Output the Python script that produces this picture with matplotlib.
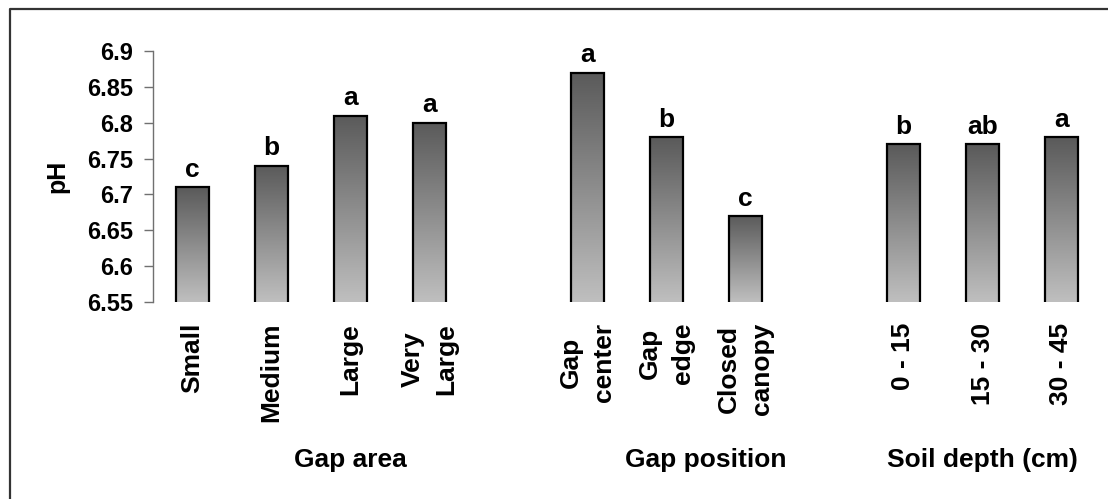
import numpy as np
import matplotlib
matplotlib.use("Agg")
import matplotlib.pyplot as plt
from matplotlib.colors import LinearSegmentedColormap
from matplotlib.lines import Line2D
import matplotlib.transforms as mtransforms

# pH means by factor level, with letters from the mean-separation test
categories = ["Small", "Medium", "Large", "Very\nLarge",
              "Gap\ncenter", "Gap\nedge", "Closed\ncanopy",
              "0 - 15", "15 - 30", "30 - 45"]
ph_values = [6.71, 6.74, 6.81, 6.80,
             6.87, 6.78, 6.67,
             6.77, 6.77, 6.78]
letters = ["c", "b", "a", "a",
           "a", "b", "c",
           "b", "ab", "a"]
groups = ["Gap area", "Gap position", "Soil depth (cm)"]
group_sizes = [4, 3, 3]
y_ticks = [6.55, 6.6, 6.65, 6.7, 6.75, 6.8, 6.85, 6.9]
y_tick_labels = ["6.55", "6.6", "6.65", "6.7", "6.75", "6.8", "6.85", "6.9"]

FONT = "Liberation Sans"
W, H = 1108, 499

# bar slots: one empty slot between factor groups
positions = []
slot = 0
for size in group_sizes:
    positions.extend(range(slot, slot + size))
    slot += size + 1
positions = np.array(positions, dtype=float)

fig = plt.figure(figsize=(W / 100, H / 100), dpi=100)
ax = fig.add_axes([153 / W, (H - 302) / H, (1101 - 153) / W, (302 - 51) / H])

ax.set_xlim(-0.5, 11.5)
ax.set_ylim(6.55, 6.9)

bars = ax.bar(positions, ph_values, width=0.42, facecolor="none",
              edgecolor="black", linewidth=1.6, zorder=3)

# vertical grey gradient inside every bar: dark at the top, light at the base
grad_cmap = LinearSegmentedColormap.from_list("bar_grad", ["#bfbfbf", "#5a5a5a"])
gradient = np.linspace(0, 1, 256).reshape(-1, 1)
ymin = ax.get_ylim()[0]
for b in bars:
    x0 = b.get_x()
    ax.imshow(gradient, cmap=grad_cmap, origin="lower", aspect="auto",
              extent=[x0, x0 + b.get_width(), ymin, b.get_height()],
              interpolation="bilinear", zorder=2)
ax.set_xlim(-0.5, 11.5)
ax.set_ylim(6.55, 6.9)

# significance letters above the bars
for b, lab in zip(bars, letters):
    ax.annotate(lab, (b.get_x() + b.get_width() / 2, b.get_height()),
                xytext=(0, 7.5), textcoords="offset points",
                ha="center", va="baseline", fontsize=19,
                fontweight="bold", family=FONT)

# axes styling
for side in ["top", "right", "bottom"]:
    ax.spines[side].set_visible(False)
ax.spines["left"].set_color("#707070")
ax.spines["left"].set_linewidth(1.0)

ax.set_yticks(y_ticks)
ax.set_yticklabels(y_tick_labels, fontsize=17, fontweight="bold", family=FONT)
ax.tick_params(axis="y", length=6.5, width=1.0, color="#707070", pad=8)

ax.set_xticks(positions)
ax.set_xticklabels(categories, rotation=90, fontsize=19, fontweight="bold",
                   family=FONT, multialignment="center", va="top", ha="center",
                   linespacing=1.45)
ax.tick_params(axis="x", length=0, pad=15)

ax.text(-0.101, 0.5, "pH", transform=ax.transAxes, rotation=90,
        ha="center", va="center", fontsize=18, fontweight="bold", family=FONT)

# factor names under each group
blend = mtransforms.blended_transform_factory(ax.transData, fig.transFigure)
group_x = [2.0, 6.5, 10.0]
for gx, gname in zip(group_x, groups):
    ax.text(gx, (H - 467) / H, gname, transform=blend, ha="center",
            va="baseline", fontsize=19, fontweight="bold", family=FONT)

# chart frame (left and top edges)
fig.add_artist(Line2D([9.5 / W, 9.5 / W, 1.0], [0.0, 1 - 8.5 / H, 1 - 8.5 / H],
                      transform=fig.transFigure, color="#333333", linewidth=1.6))

fig.savefig("out.png", dpi=100)
